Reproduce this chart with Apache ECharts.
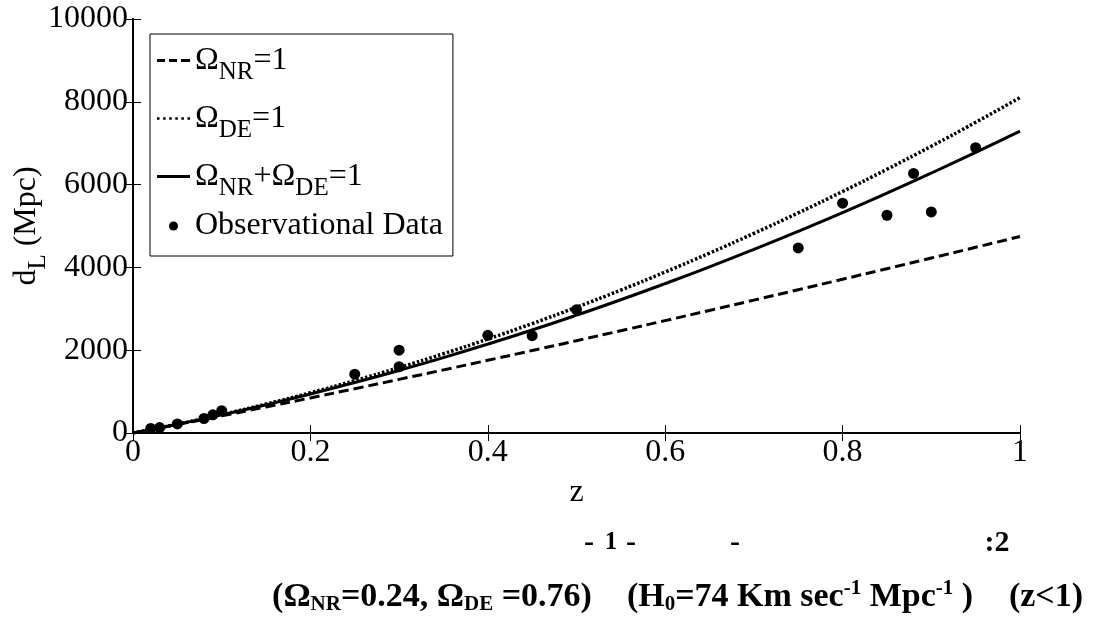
<!DOCTYPE html>
<html>
<head>
<meta charset="utf-8">
<script src="https://cdn.jsdelivr.net/npm/echarts@6/dist/echarts.min.js"></script>
<style>html,body{margin:0;padding:0;background:#fff}#c{width:1096px;height:627px}</style>
</head>
<body>
<div id="c"></div>
<script>
// ---- data ----
const zGrid = [0,0.05,0.1,0.15,0.2,0.25,0.3,0.35,0.4,0.45,0.5,0.55,0.6,0.65,0.7,0.75,0.8,0.85,0.9,0.95,1.0];
const dL_NR  = [0,205,415,629,847,1069,1295,1524,1756,1992,2230,2471,2715,2961,3210,3461,3714,3969,4226,4485,4746];
const dL_DE  = [0,213,446,699,972,1266,1580,1914,2269,2643,3038,3453,3889,4345,4821,5317,5833,6370,6927,7504,8102];
const dL_MIX = [0,211,438,682,942,1219,1512,1821,2147,2488,2846,3219,3609,4014,4436,4873,5325,5794,6278,6777,7292];
const obsZ   = [0.02,0.03,0.05,0.08,0.09,0.10,0.25,0.30,0.30,0.40,0.45,0.50,0.75,0.80,0.85,0.88,0.90,0.95];
const obsD   = [110,130,220,350,440,540,1420,1600,2000,2360,2350,2980,4470,5550,5260,6270,5340,6890];
const xTicks = [0,0.2,0.4,0.6,0.8,1];
const yTicks = [0,2000,4000,6000,8000,10000];
const seriesNames = ['NR', 'DE', 'MIX', 'OBS'];

const FF = '"Liberation Serif", "Times New Roman", serif';
const zip = (xs, ys) => xs.map((x, i) => [x, ys[i]]);

const chart = echarts.init(document.getElementById('c'));
const tickStyle = { show: true, inside: true, length: 8, lineStyle: { color: '#000', width: 1 } };
const lineAx = { show: true, lineStyle: { color: '#000', width: 2 } };

const legendRich = {
  o: { fontFamily: FF, fontSize: 32, color: '#000', lineHeight: 40 },
  s: { fontFamily: FF, fontSize: 25, color: '#000', lineHeight: 25, padding: [24, 0, 0, 0] },
  t: { fontFamily: FF, fontSize: 32, color: '#000', lineHeight: 44 }
};
const legendText = {
  NR: '{o|Ω}{s|NR}{o|=1}',
  DE: '{o|Ω}{s|DE}{o|=1}',
  MIX: '{o|Ω}{s|NR}{o|+Ω}{s|DE}{o|=1}',
  OBS: '{t|Observational Data}'
};
// legend icons (line samples) as small filled shapes
const iconDash  = 'path://M0,0h8v3h-8z M12,0h8v3h-8z M24,0h9v3h-9z';
const iconDot   = 'path://M0,0h2.5v2.5h-2.5z M6,0h2.5v2.5h-2.5z M12,0h2.5v2.5h-2.5z M18,0h2.5v2.5h-2.5z M24,0h2.5v2.5h-2.5z M30,0h2.5v2.5h-2.5z';
const iconSolid = 'path://M0,0h33v3h-33z';

const boldTxt = (text, x, y, size) => ({ type: 'text', x: x, y: y, style: {
  text: text, fontFamily: FF, fontWeight: 'bold', fontSize: size, fill: '#000',
  textAlign: 'center', textVerticalAlign: 'middle' } });
const captionRich = {
  b: { fontFamily: FF, fontWeight: 'bold', fontSize: 34, fill: '#000', lineHeight: 40 },
  s: { fontFamily: FF, fontWeight: 'bold', fontSize: 21, fill: '#000', lineHeight: 21, padding: [15, 0, 0, 0] },
  p: { fontFamily: FF, fontWeight: 'bold', fontSize: 21, fill: '#000', lineHeight: 21, padding: [0, 0, 17, 0] }
};

const option = {
  animation: false,
  backgroundColor: '#fff',
  grid: { left: 133, right: 76, top: 19, bottom: 194, containLabel: false, outerBoundsMode: 'none' },
  xAxis: [
    { type: 'value', min: xTicks[0], max: xTicks[xTicks.length-1], interval: 0.2,
      axisLine: lineAx, axisTick: tickStyle, splitLine: { show: false },
      axisLabel: { fontFamily: FF, fontSize: 32, color: '#000', margin: 4, formatter: v => String(v) },
      name: 'z', nameLocation: 'middle', nameGap: 44, nameMoveOverlap: false,
      nameTextStyle: { fontFamily: FF, fontSize: 32, color: '#000' } },
    { type: 'value', position: 'top', min: 0, max: 1, interval: 0.2,
      axisLine: lineAx, axisTick: tickStyle, axisLabel: { show: false }, splitLine: { show: false } }
  ],
  yAxis: [
    { type: 'value', min: yTicks[0], max: yTicks[yTicks.length-1], interval: 2000,
      axisLine: lineAx, axisTick: tickStyle, splitLine: { show: false },
      axisLabel: { fontFamily: FF, fontSize: 32, color: '#000', margin: 5, formatter: v => String(v) },
      name: '{a|d}{s|L}{a| (Mpc)}', nameLocation: 'middle', nameGap: 86, nameMoveOverlap: false,
      nameTextStyle: { rich: {
        a: { fontFamily: FF, fontSize: 32, color: '#000', lineHeight: 40 },
        s: { fontFamily: FF, fontSize: 25, color: '#000', lineHeight: 25, padding: [22, 0, 0, 0] }
      } } },
    { type: 'value', position: 'right', min: 0, max: 10000, interval: 2000,
      axisLine: lineAx, axisTick: tickStyle, axisLabel: { show: false }, splitLine: { show: false } }
  ],
  legend: {
    orient: 'vertical', left: 150, top: 34,
    data: [
      { name: 'NR', icon: iconDash },
      { name: 'DE', icon: iconDot },
      { name: 'MIX', icon: iconSolid },
      { name: 'OBS', icon: 'circle' }
    ],
    itemWidth: 33, itemHeight: 9, itemGap: 9,
    padding: [2, 10, 14, 7],
    borderColor: '#000', borderWidth: 1, backgroundColor: '#fff',
    itemStyle: { color: '#000', borderWidth: 0 },
    formatter: n => legendText[n],
    textStyle: { rich: legendRich, color: '#000' }
  },
  series: [
    { name: seriesNames[0], type: 'line', smooth: true, symbol: 'none', data: zip(zGrid, dL_NR),
      lineStyle: { color: '#000', width: 3, type: [10, 5] }, itemStyle: { color: '#000' } },
    { name: seriesNames[1], type: 'line', smooth: true, symbol: 'none', data: zip(zGrid, dL_DE),
      lineStyle: { color: '#000', width: 3.5, type: [2.5, 2] }, itemStyle: { color: '#000' } },
    { name: seriesNames[2], type: 'line', smooth: true, symbol: 'none', data: zip(zGrid, dL_MIX),
      lineStyle: { color: '#000', width: 3, type: 'solid' }, itemStyle: { color: '#000' } },
    { name: seriesNames[3], type: 'scatter', symbol: 'circle', symbolSize: 11, data: zip(obsZ, obsD),
      itemStyle: { color: '#000', opacity: 1 }, z: 5 }
  ],
  graphic: [
    boldTxt('-', 589, 543, 30),
    boldTxt('1', 611, 543, 25),
    boldTxt('-', 631, 543, 30),
    boldTxt('-', 735, 543, 30),
    boldTxt(':2', 997, 543, 30),
    { type: 'text', x: 432, y: 597, style: {
        text: '{b|(Ω}{s|NR}{b|=0.24, Ω}{s|DE}{b| =0.76)}', textAlign: 'center', textVerticalAlign: 'middle',
        rich: captionRich } },
    { type: 'text', x: 800, y: 597, style: {
        text: '{b|(H}{s|0}{b|=74 Km sec}{p|-1}{b| Mpc}{p|-1}{b| )}', textAlign: 'center', textVerticalAlign: 'middle',
        rich: captionRich } },
    boldTxt('(z<1)', 1046, 597, 34)
  ]
};
chart.setOption(option);
</script>
</body>
</html>
